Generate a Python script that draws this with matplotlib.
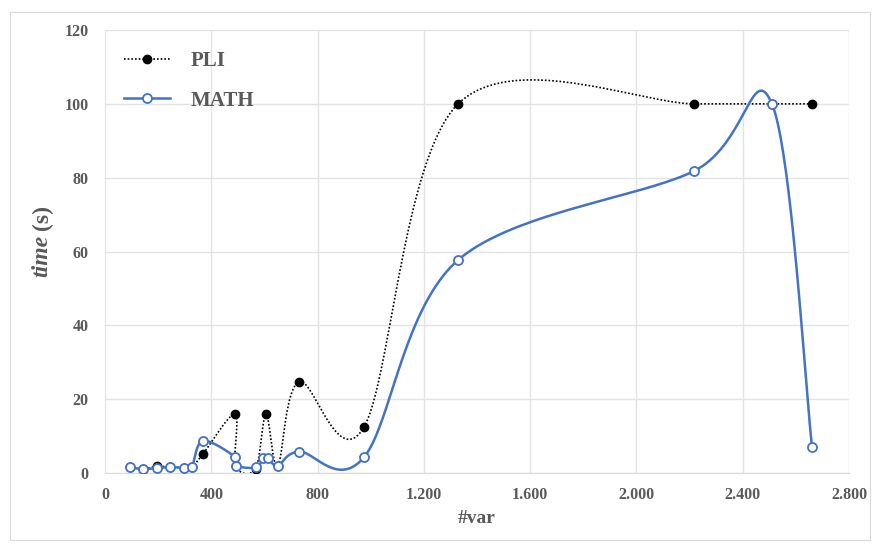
import numpy as np
import matplotlib
matplotlib.use('Agg')
import matplotlib.pyplot as plt
from matplotlib.patches import Rectangle

# data
pli_x = [94, 144, 195, 245, 297, 326, 368, 489, 492, 567, 606, 650, 730, 975, 1329, 2217, 2510, 2661]
pli_y = [1.5, 1.1, 1.8, 1.6, 1.4, 1.5, 5.1, 15.9, 2.0, 1.2, 15.9, 2.0, 24.7, 12.5, 100, 100, 100, 100]
math_x = [94, 144, 195, 245, 297, 326, 368, 489, 492, 567, 596, 612, 650, 730, 975, 1329, 2217, 2510, 2661]
math_y = [1.5, 1.1, 1.3, 1.6, 1.4, 1.5, 8.7, 4.4, 2.0, 1.5, 4.0, 4.1, 2.0, 5.8, 4.3, 57.7, 81.8, 100, 7.0]

x_ticks = [0, 400, 800, 1200, 1600, 2000, 2400, 2800]
x_labels = ['0', '400', '800', '1.200', '1.600', '2.000', '2.400', '2.800']
y_ticks = [0, 20, 40, 60, 80, 100, 120]

GREY = '#595959'
BLUE = '#4472C4'
SERIF = 'Liberation Serif'


def smooth(xs, ys, n=40):
    # excel-like smoothed line: cubic bezier with catmull-rom style control points
    p = np.column_stack([xs, ys]).astype(float)
    ext = np.vstack([p[0], p, p[-1]])
    out = [p[0]]
    t = np.linspace(0, 1, n)[1:, None]
    for i in range(len(p) - 1):
        p0, p1, p2, p3 = ext[i], ext[i + 1], ext[i + 2], ext[i + 3]
        c1 = p1 + (p2 - p0) / 6.0
        c2 = p2 - (p3 - p1) / 6.0
        seg = ((1 - t) ** 3) * p1 + 3 * ((1 - t) ** 2) * t * c1 + 3 * (1 - t) * t ** 2 * c2 + t ** 3 * p2
        out.extend(seg)
    out = np.array(out)
    return out[:, 0], out[:, 1]


fig = plt.figure(figsize=(8.77, 5.48), dpi=100)
fig.patches.append(Rectangle((10 / 877, 8 / 548), 860 / 877, 528 / 548, transform=fig.transFigure,
                             fill=False, edgecolor='#d9d9d9', linewidth=0.8))
ax = fig.add_axes([105 / 877, 1 - 473 / 548, 744 / 877, 443 / 548])

# PLI
sx, sy = smooth(pli_x, pli_y)
ax.plot(sx, sy, color='black', linestyle=(0, (1, 1.2)), linewidth=1.2, zorder=3)
ax.plot(pli_x, pli_y, 'o', color='black', markersize=6, zorder=4)

# MATH
sx, sy = smooth(math_x, math_y)
ax.plot(sx, sy, color=BLUE, linewidth=1.8, zorder=5)
ax.plot(math_x, math_y, 'o', markerfacecolor='white', markeredgecolor=BLUE,
        markeredgewidth=1.3, markersize=6.5, zorder=6)

# legend handles
ax.plot([], [], color='black', linestyle=(0, (1, 1.2)), linewidth=1.2, marker='o', markersize=6, label='PLI')
ax.plot([], [], color=BLUE, linewidth=1.8, marker='o', markerfacecolor='white',
        markeredgecolor=BLUE, markeredgewidth=1.3, markersize=6.5, label='MATH')
h, l = ax.get_legend_handles_labels()
leg = ax.legend(h[-2:], l[-2:], loc='upper left', bbox_to_anchor=(0.0, 0.995), frameon=False,
                prop={'family': SERIF, 'weight': 'bold', 'size': 15}, handlelength=2.2,
                labelspacing=0.95, handletextpad=1.0)
for t in leg.get_texts():
    t.set_color(GREY)

ax.set_xlim(0, 2800)
ax.set_ylim(0, 120)
ax.set_xticks(x_ticks)
ax.set_xticklabels(x_labels)
ax.set_yticks(y_ticks)
for lab in ax.get_xticklabels() + ax.get_yticklabels():
    lab.set_family(SERIF)
    lab.set_weight('bold')
    lab.set_color(GREY)
    lab.set_fontsize(11.5)
ax.tick_params(length=0, pad=10)
ax.tick_params(axis='y', pad=12)
ax.grid(True, color='#e3e3e3', linewidth=1)
ax.set_axisbelow(True)
for s in ['top', 'right', 'left']:
    ax.spines[s].set_visible(False)
ax.spines['bottom'].set_color('#d9d9d9')

ax.set_xlabel('#var', family=SERIF, weight='bold', color=GREY, fontsize=14, labelpad=5)
fig.text(42 / 877, 1 - 256 / 548, 'time', rotation=90, ha='center', va='center',
         family=SERIF, weight='bold', style='italic', color=GREY, fontsize=17)
fig.text(42 / 877, 1 - 217 / 548, '(s)', rotation=90, ha='center', va='center',
         family=SERIF, weight='bold', color=GREY, fontsize=17)

plt.savefig('out.png', dpi=100)
